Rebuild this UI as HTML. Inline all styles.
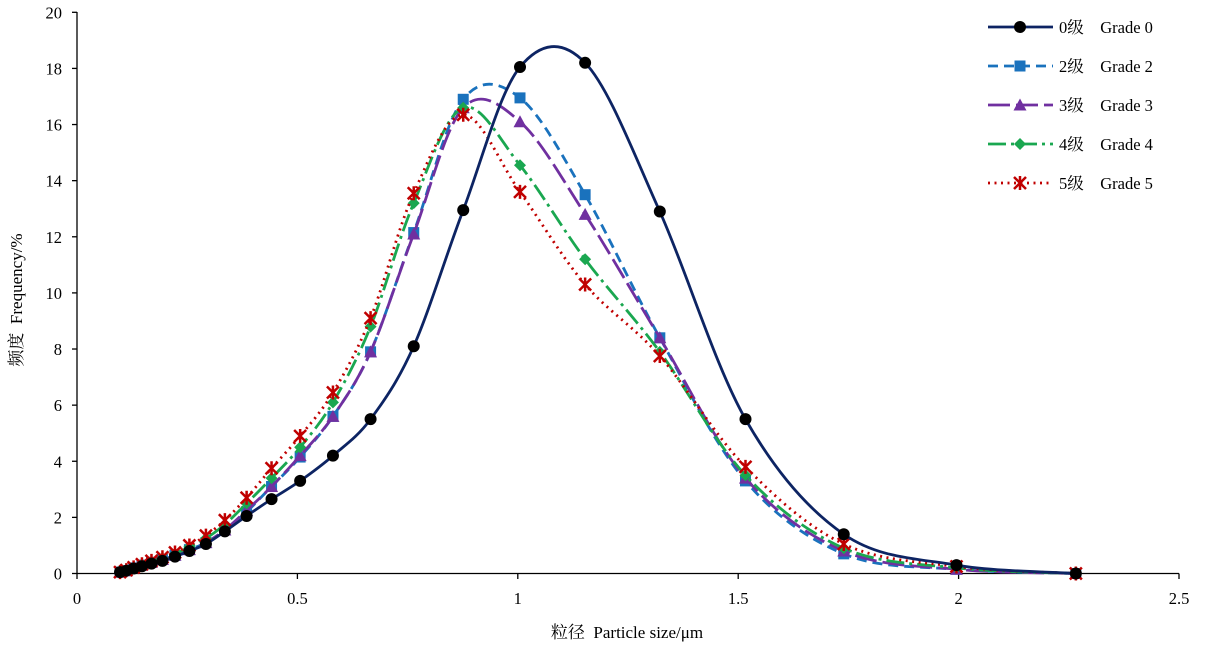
<!DOCTYPE html>
<html><head><meta charset="utf-8"><style>
html,body{margin:0;padding:0;background:#fff;}
svg{display:block;font-family:"Liberation Serif","Noto Serif CJK SC",serif;}
</style></head><body>
<svg id="s" width="1213" height="657" viewBox="0 0 1213 657" xmlns="http://www.w3.org/2000/svg">
<g stroke="#000" stroke-width="1.3" fill="none">
<line x1="77" y1="12" x2="77" y2="573.5"/>
<line x1="77" y1="573.5" x2="1179" y2="573.5"/>
</g>
<g id="ticks" stroke="#000" stroke-width="1.3"></g>
<g id="labels" font-size="16.5" fill="#000"></g>
<text x="627" y="638" font-size="17" text-anchor="middle">粒径&#160;&#160;Particle size/μm</text>
<text transform="translate(22,300) rotate(-90)" font-size="17" text-anchor="middle">频度&#160;&#160;Frequency/%</text>
<g id="series"></g>
<g id="legend" font-size="16.5"></g>
</svg>
<script>
var NS="http://www.w3.org/2000/svg";
function el(p,t,a,txt){var e=document.createElementNS(NS,t);for(var k in a)e.setAttribute(k,a[k]);if(txt!=null)e.textContent=txt;p.appendChild(e);return e;}
function X(v){return 77+v*440.8;}function Y(v){return 573.5-v*28.06;}
var tk=document.getElementById('ticks'),lb=document.getElementById('labels');
for(var i=0;i<=10;i++){var y=Y(i*2);el(tk,'line',{x1:72,y1:y,x2:77,y2:y});el(lb,'text',{x:62,y:y+6,'text-anchor':'end'},String(i*2));}
[0,0.5,1,1.5,2,2.5].forEach(function(v){var x=X(v);el(tk,'line',{x1:x,y1:573.5,x2:x,y2:579});el(lb,'text',{x:x,y:604,'text-anchor':'middle'},String(v));});
var xs=[];for(var k=-17;k<=5;k++)xs.push(1.005*Math.pow(1.147,k));xs.push(2.266);
var g0=[0.05,0.1,0.18,0.26,0.35,0.45,0.6,0.8,1.05,1.5,2.05,2.65,3.3,4.2,5.5,8.1,12.95,18.05,18.2,12.9,5.5,1.4,0.3,0];
var g2=[0.05,0.1,0.2,0.3,0.4,0.5,0.65,0.85,1.1,1.55,2.2,3.1,4.15,5.6,7.9,12.15,16.9,16.95,13.5,8.4,3.3,0.7,0.15,0];
var g3=[0.05,0.1,0.2,0.3,0.4,0.5,0.65,0.85,1.1,1.55,2.25,3.1,4.2,5.6,7.9,12.1,16.6,16.1,12.8,8.4,3.4,0.8,0.15,0];
var g4=[0.05,0.12,0.22,0.32,0.42,0.55,0.7,0.95,1.25,1.75,2.5,3.4,4.5,6.1,8.8,13.2,16.6,14.55,11.2,7.9,3.5,0.9,0.2,0];
var g5=[0.05,0.12,0.22,0.33,0.45,0.58,0.75,1.0,1.35,1.9,2.7,3.75,4.9,6.45,9.1,13.55,16.35,13.6,10.3,7.75,3.8,1.05,0.25,0];
function path(pts){var d='M'+pts[0][0]+','+pts[0][1];for(var i=0;i<pts.length-1;i++){var p0=pts[i-1]||pts[i],p1=pts[i],p2=pts[i+1],p3=pts[i+2]||p2;var c1=[p1[0]+(p2[0]-p0[0])/6,p1[1]+(p2[1]-p0[1])/6],c2=[p2[0]-(p3[0]-p1[0])/6,p2[1]-(p3[1]-p1[1])/6];d+=' C'+c1+' '+c2+' '+p2;}return d;}
var S=document.getElementById('series'),L=document.getElementById('legend');
function marker(p,type,x,y,c){
 if(type==0)el(p,'circle',{cx:x,cy:y,r:6,fill:'#000'});
 else if(type==2)el(p,'rect',{x:x-5.5,y:y-5.5,width:11,height:11,fill:c});
 else if(type==3)el(p,'path',{d:'M'+x+','+(y-6.5)+' L'+(x+6.5)+','+(y+5.5)+' L'+(x-6.5)+','+(y+5.5)+'Z',fill:c});
 else if(type==4)el(p,'path',{d:'M'+x+','+(y-6)+' L'+(x+6)+','+y+' L'+x+','+(y+6)+' L'+(x-6)+','+y+'Z',fill:c});
 else {el(p,'path',{d:'M'+(x-6)+','+(y-6)+'L'+(x+6)+','+(y+6)+'M'+(x+6)+','+(y-6)+'L'+(x-6)+','+(y+6)+'M'+x+','+(y-7)+'L'+x+','+(y+7),stroke:c,'stroke-width':2.5,fill:'none'});}
}
var sp='\u00a0\u00a0\u00a0\u00a0';
var defs=[[g2,'#1a72bd','10,6',2,'2级'+sp+'Grade 2',66],[g3,'#7030a0','22,6',3,'3级'+sp+'Grade 3',105],[g4,'#1aa750','18,5,3,5',4,'4级'+sp+'Grade 4',144],[g5,'#c00000','2,4.5',5,'5级'+sp+'Grade 5',183],[g0,'#0d2463','',0,'0级'+sp+'Grade 0',27]];
defs.forEach(function(s){var pts=s[0].map(function(v,i){return[X(xs[i]),Y(v)];});
 var a={d:path(pts),fill:'none',stroke:s[1],'stroke-width':2.8};if(s[2])a['stroke-dasharray']=s[2];el(S,'path',a);
 pts.forEach(function(p){marker(S,s[3],p[0],p[1],s[1]);});
 var y=s[5];var la={x1:988,y1:y,x2:1053,y2:y,stroke:s[1],'stroke-width':2.8};if(s[2])la['stroke-dasharray']=s[2];el(L,'line',la);
 marker(L,s[3],1020,y,s[1]);el(L,'text',{x:1059,y:y+6},s[4]);
});
</script>
</body></html>
